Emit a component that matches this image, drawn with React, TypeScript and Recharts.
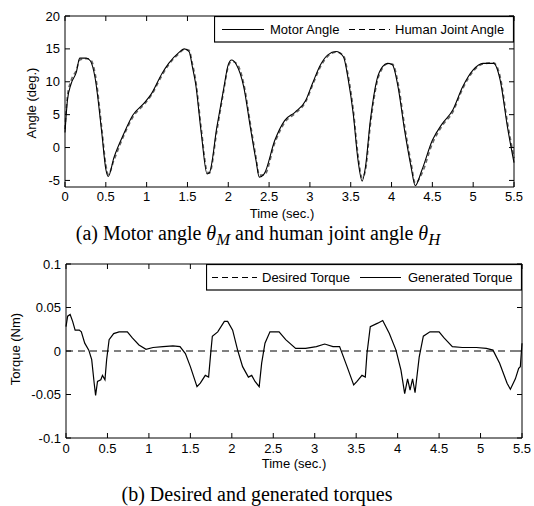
import React from 'react';
import { LineChart, Line, XAxis, YAxis } from 'recharts';

// (a) angles, deg.
const angleTime = [
  0, 0.03, 0.075, 0.14, 0.18, 0.26, 0.31, 0.37, 0.45, 0.5, 0.53, 0.6, 0.72, 0.83, 0.98, 1.06, 1.19, 1.27,
  1.39, 1.46, 1.52, 1.56, 1.6, 1.67, 1.74, 1.77, 1.86, 1.94, 2.0, 2.04, 2.1, 2.19, 2.27, 2.34, 2.38, 2.44,
  2.57, 2.69, 2.82, 2.95, 3.03, 3.13, 3.22, 3.32, 3.41, 3.47, 3.53, 3.59, 3.64, 3.68, 3.74, 3.82, 3.89,
  3.95, 4.01, 4.08, 4.16, 4.24, 4.29, 4.37, 4.5, 4.62, 4.75, 4.87, 5.0, 5.12, 5.25, 5.33, 5.42, 5.5,
];
const motorAngle = [
  2.3, 7.2, 9.7, 11.5, 13.6, 13.6, 13.2, 10.5, 2.3, -3.3, -4.4, -1.5, 2.1, 4.9, 6.9, 8.2, 11.3, 12.8,
  14.4, 15.0, 14.6, 12.3, 9.7, 2.1, -4.0, -3.8, 3.1, 8.7, 12.6, 13.3, 12.6, 9.2, 3.1, -2.0, -4.5, -4.0,
  1.1, 4.1, 5.4, 7.2, 9.7, 12.6, 14.1, 14.6, 13.8, 10.3, 5.2, -2.0, -5.1, -3.0, 4.1, 10.3, 12.3,
  12.8, 12.6, 9.2, 2.6, -3.0, -5.8, -3.5, 1.1, 3.6, 5.7, 9.2, 11.8, 12.8, 12.8, 10.3, 3.1, -2.3,
];
const humanAngle = [
  2.8, 7.8, 10.2, 11.8, 13.3, 13.5, 13.4, 11.2, 3.0, -2.6, -4.1, -1.9, 1.8, 4.6, 6.7, 8.0, 11.0, 12.6,
  14.2, 14.9, 14.8, 12.8, 10.3, 2.8, -3.6, -3.9, 2.5, 8.3, 12.3, 13.1, 12.8, 9.7, 3.7, -1.5, -4.2, -4.2,
  0.7, 3.8, 5.2, 7.0, 9.4, 12.3, 13.9, 14.5, 14.0, 10.9, 5.9, -1.2, -4.6, -3.5, 3.4, 9.8, 12.1,
  12.7, 12.7, 9.8, 3.3, -2.4, -5.4, -4.0, 0.6, 3.3, 5.4, 8.9, 11.6, 12.7, 12.9, 10.8, 3.8, -1.6,
];

// (b) torques, Nm
const torqueTime = [
  0, 0.02, 0.05, 0.08, 0.11, 0.16, 0.185, 0.226, 0.275, 0.31, 0.34, 0.357, 0.38, 0.42, 0.44, 0.47, 0.49,
  0.52, 0.575, 0.64, 0.74, 0.8, 0.88, 0.965, 1.05, 1.17, 1.29, 1.375, 1.44, 1.5, 1.58, 1.62, 1.68, 1.72,
  1.745, 1.765, 1.83, 1.91, 1.95, 2.01, 2.07, 2.13, 2.2, 2.24, 2.28, 2.33, 2.36, 2.4, 2.46, 2.57, 2.65,
  2.77, 2.89, 3.02, 3.12, 3.22, 3.3, 3.39, 3.47, 3.51, 3.57, 3.61, 3.63, 3.67, 3.76, 3.82, 3.9, 3.98,
  4.04, 4.085, 4.12, 4.15, 4.18, 4.21, 4.26, 4.31, 4.39, 4.5, 4.56, 4.66, 4.78, 4.95, 5.07, 5.15, 5.23,
  5.32, 5.36, 5.42, 5.46, 5.48, 5.5,
];
const generatedTorque = [
  0.028, 0.04, 0.042, 0.034, 0.024, 0.024, 0.022, 0.009, 0.001, -0.01, -0.037, -0.051, -0.035, -0.033,
  -0.028, -0.033, -0.01, 0.013, 0.02, 0.022, 0.022, 0.015, 0.007, 0.002, 0.004, 0.005, 0.006, 0.005,
  -0.003, -0.018, -0.041, -0.037, -0.028, -0.03, -0.003, 0.017, 0.022, 0.034, 0.034, 0.024, 0.001,
  -0.018, -0.03, -0.028, -0.035, -0.041, -0.014, 0.009, 0.022, 0.022, 0.013, 0.003, 0.003, 0.005, 0.008,
  0.005, 0.005, -0.018, -0.039, -0.035, -0.028, -0.03, -0.003, 0.028, 0.032, 0.035, 0.02, 0.001, -0.022,
  -0.049, -0.032, -0.045, -0.032, -0.048, -0.007, 0.017, 0.022, 0.022, 0.015, 0.005, 0.004, 0.004,
  0.003, 0.001, -0.014, -0.037, -0.044, -0.032, -0.02, -0.018, 0.009,
];
const desiredTime = [0, 5.5];
const desiredTorque = [0, 0];

const timeTicks = [0, 0.5, 1, 1.5, 2, 2.5, 3, 3.5, 4, 4.5, 5, 5.5];
const angleTicks = [-5, 0, 5, 10, 15, 20];
const torqueTicks = [-0.1, -0.05, 0, 0.05, 0.1];

const angleData = angleTime.map((t, i) => ({ t, motor: motorAngle[i], human: humanAngle[i] }));
const torqueData = torqueTime.map((t, i) => ({ t, generated: generatedTorque[i] }));
const desiredData = desiredTime.map((t, i) => ({ t, desired: desiredTorque[i] }));

const SANS = '"Liberation Sans", Arial, sans-serif';
const SERIF = '"Liberation Serif", "Times New Roman", serif';
const tickStyle = { fontSize: 13, fill: '#000', fontFamily: SANS };

const abs = (left: number, top: number): React.CSSProperties => ({
  position: 'absolute',
  left,
  top,
  transform: 'translate(-50%, -50%)',
  whiteSpace: 'nowrap',
});

function LegendBox({ left, top, width, items }: any) {
  return (
    <svg style={{ position: 'absolute', left, top }} width={width} height={27}>
      <rect x={0.5} y={0.5} width={width - 1} height={25.5} fill="#fff" stroke="#000" strokeWidth={1.2} />
      {items.map((it: any) => (
        <g key={it.label}>
          <line x1={it.x1} x2={it.x2} y1={13.5} y2={13.5} stroke="#000" strokeWidth={1} strokeDasharray={it.dash} />
          <text x={it.tx} y={18} fontSize={13} fontFamily={SANS} fill="#000">
            {it.label}
          </text>
        </g>
      ))}
    </svg>
  );
}

// matlab style box: closes top and right edges, ticks pointing inward
function Frame({ left, top, width, height, yDomain, yTicks }: any) {
  const [y0, y1] = yDomain;
  const sx = (t: number) => (t / 5.5) * width;
  const sy = (v: number) => ((y1 - v) / (y1 - y0)) * height;
  return (
    <svg style={{ position: 'absolute', left: left - 1, top: top - 1, pointerEvents: 'none' }}
      width={width + 2} height={height + 2}>
      <g transform="translate(1,1)" stroke="#000" strokeWidth={1} fill="none">
        <line x1={0} x2={width} y1={0} y2={0} />
        <line x1={width} x2={width} y1={0} y2={height} />
        {timeTicks.map((t) => (
          <line key={'t' + t} x1={sx(t)} x2={sx(t)} y1={0} y2={5} />
        ))}
        {yTicks.map((v: number) => (
          <line key={'r' + v} x1={width - 5} x2={width} y1={sy(v)} y2={sy(v)} />
        ))}
      </g>
    </svg>
  );
}

export default function App() {
  return (
    <div style={{ position: 'absolute', left: 0, top: 0, width: 534, height: 506, background: '#fff' }}>
      <div style={{ position: 'absolute', left: 0, top: 0 }}>
        <LineChart width={534} height={230} data={angleData} margin={{ top: 16, right: 20, left: 20, bottom: 13 }}>
          <XAxis dataKey="t" type="number" domain={[0, 5.5]} ticks={timeTicks} interval={0} height={30}
            stroke="#000" tickSize={-5} tickMargin={10} tick={tickStyle} />
          <YAxis type="number" domain={[-6, 20]} ticks={angleTicks} interval={0} width={45} stroke="#000"
            tickSize={-5} tickMargin={10} tick={tickStyle} />
          <Line dataKey="human" type="monotone" stroke="#666" strokeWidth={1.6} strokeDasharray="4 3"
            dot={false} isAnimationActive={false} />
          <Line dataKey="motor" type="monotone" stroke="#000" strokeWidth={1.1} dot={false} isAnimationActive={false} />
        </LineChart>
      </div>
      <Frame left={65} top={16} width={449} height={171} yDomain={[-6, 20]} yTicks={angleTicks} />
      <LegendBox left={214} top={16} width={300} items={[
        { label: 'Motor Angle', x1: 8, x2: 50, tx: 56 },
        { label: 'Human Joint Angle', x1: 135, x2: 176, tx: 181, dash: '6 4' },
      ]} />
      <div style={{ ...abs(282, 213), fontFamily: SANS, fontSize: 13 }}>Time (sec.)</div>
      <div style={{ ...abs(31, 103), fontFamily: SANS, fontSize: 13, transform: 'translate(-50%, -50%) rotate(-90deg)' }}>
        Angle (deg.)
      </div>
      <div style={{ ...abs(258, 236), fontFamily: SERIF, fontSize: 20 }}>
        (a) Motor angle <i>θ</i><sub><i>M</i></sub> and human joint angle <i>θ</i><sub><i>H</i></sub>
      </div>

      <div style={{ position: 'absolute', left: 0, top: 250 }}>
        <LineChart width={534} height={215} data={torqueData} margin={{ top: 14, right: 12, left: 21, bottom: 2 }}>
          <XAxis dataKey="t" type="number" domain={[0, 5.5]} ticks={timeTicks} interval={0} height={25}
            stroke="#000" tickSize={-5} tickMargin={11} tick={tickStyle} />
          <YAxis type="number" domain={[-0.1, 0.1]} ticks={torqueTicks} interval={0} width={45} stroke="#000"
            tickSize={-5} tickMargin={10} tick={tickStyle} />
          <Line data={desiredData} dataKey="desired" type="linear" stroke="#000" strokeWidth={1}
            strokeDasharray="7 5" dot={false} isAnimationActive={false} />
          <Line dataKey="generated" type="linear" stroke="#000" strokeWidth={1.2} dot={false} isAnimationActive={false} />
        </LineChart>
      </div>
      <Frame left={66} top={264} width={456} height={174} yDomain={[-0.1, 0.1]} yTicks={torqueTicks} />
      <LegendBox left={206} top={264} width={316} items={[
        { label: 'Desired Torque', x1: 6, x2: 51, tx: 56, dash: '6 4' },
        { label: 'Generated Torque', x1: 154, x2: 195, tx: 202 },
      ]} />
      <div style={{ ...abs(294, 463), fontFamily: SANS, fontSize: 13 }}>Time (sec.)</div>
      <div style={{ ...abs(15, 349), fontFamily: SANS, fontSize: 13, transform: 'translate(-50%, -50%) rotate(-90deg)' }}>
        Torque (Nm)
      </div>
      <div style={{ ...abs(257, 494), fontFamily: SERIF, fontSize: 20 }}>(b) Desired and generated torques</div>
    </div>
  );
}
